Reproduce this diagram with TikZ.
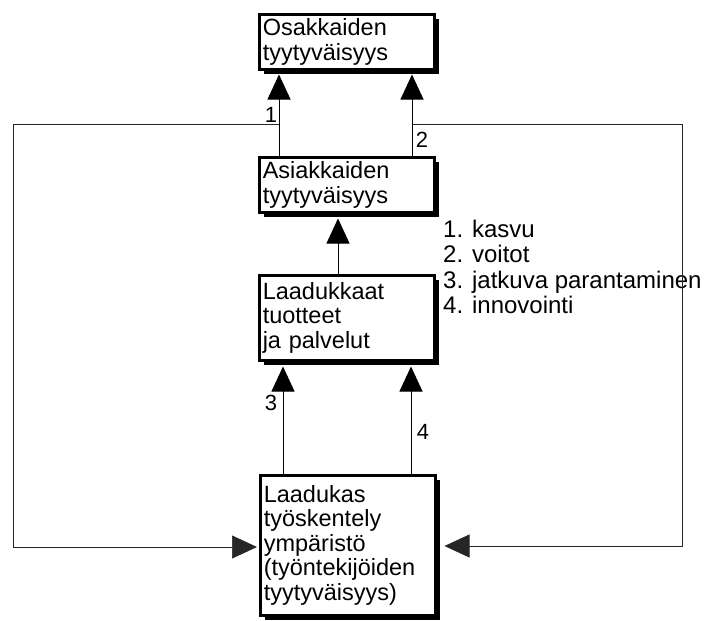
\documentclass[tikz,border=0pt]{standalone}
\usepackage{fontspec}
\setmainfont{Liberation Sans}
\usetikzlibrary{arrows.meta,calc,shadows}
\begin{document}
\begin{tikzpicture}[x=1pt,y=-1pt,
  box/.style={draw, line width=2.5pt, fill=white, anchor=north west,
    minimum width=175pt, text width=168pt, inner xsep=3.5pt, inner ysep=0pt,
    align=left, font=\fontsize{23.5}{24.5}\selectfont,
    drop shadow={shadow xshift=5pt, shadow yshift=-5pt, fill=black, opacity=1}},
  tipstyle/.style={-{Triangle[width=23pt,length=25pt]}},
  conn/.style={line width=0.9pt},
  arr/.style={conn, tipstyle},
  loopline/.style={line width=0.7pt, black!85, tipstyle},
  lbl/.style={font=\fontsize{22}{24}\selectfont, inner sep=0pt}
]
\useasboundingbox (0,0) rectangle (704,621);

\node[box, minimum height=55pt] (b1) at (258,13) {Osakkaiden\\tyytyväisyys};
\node[box, minimum height=55pt] (b2) at (258,156) {Asiakkaiden\\tyytyväisyys};
\node[box, minimum height=85pt] (b3) at (258,274) {Laadukkaat\\tuotteet\\ja palvelut};
\node[box, minimum height=140pt] (b4) at (259,474) {Laadukas\\työskentely\\ympäristö\\(työntekijöiden\\tyytyväisyys)};

\node[anchor=north west, align=left, inner sep=0pt, font=\fontsize{24}{25.3}\selectfont] (list) at (443,220)
  {1. kasvu\\2. voitot\\3. jatkuva parantaminen\\4. innovointi};

\coordinate (L) at (279,124);
\coordinate (R) at (412,124);
\coordinate (M) at (338,0);
\coordinate (P3) at (283,0);
\coordinate (P4) at (411,0);
\coordinate (LL) at (13,547);
\coordinate (RR) at (682,546);

\draw[arr] (b2.north -| L) -- ($(b1.south -| L)+(0pt,-4pt)$);
\draw[arr] (b2.north -| R) -- ($(b1.south -| R)+(0pt,-4pt)$);
\draw[arr] (b3.north -| M) -- ($(b2.south -| M)+(0pt,-5pt)$);
\draw[arr] (b4.north -| P3) -- ($(b3.south -| P3)+(0pt,-5pt)$);
\draw[arr] (b4.north -| P4) -- ($(b3.south -| P4)+(0pt,-5pt)$);

\draw[loopline] (L) -- (L -| LL) -- (LL) -- ($(b4.west |- LL)+(-2pt,0pt)$);
\draw[loopline] (R) -- (R -| RR) -- (RR) -- ($(b4.east |- RR)+(8pt,0pt)$);

\node[lbl] (n1) at (271,115) {1};
\node[lbl] (n2) at (422,140) {2};
\node[lbl] (n3) at (271,403) {3};
\node[lbl] (n4) at (423,432) {4};
\end{tikzpicture}
\end{document}
